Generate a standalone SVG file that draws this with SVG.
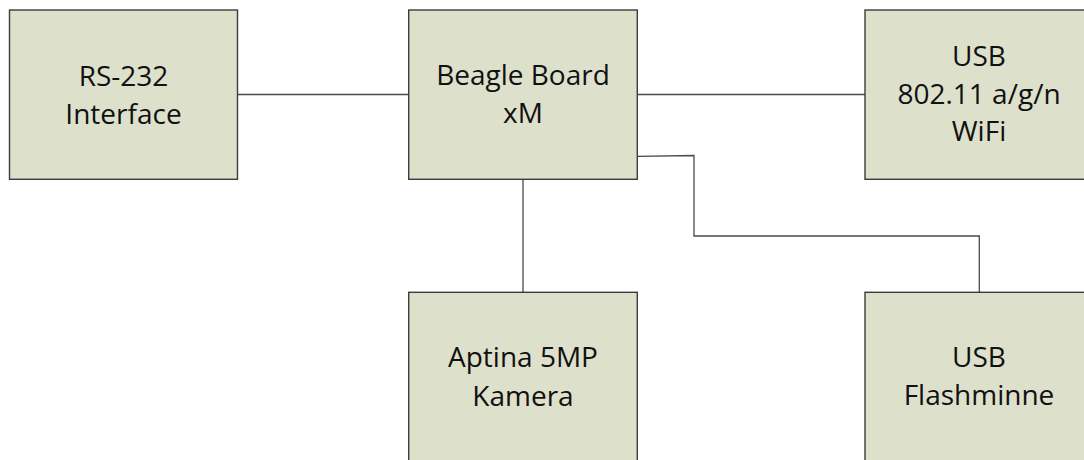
<svg xmlns="http://www.w3.org/2000/svg" width="1084" height="460" viewBox="0 0 1084 460">
<style>
.box{fill:#dde0cb;stroke:#3c3c3c;stroke-width:1.4}
.lbl{font-family:"Open Sans","Liberation Sans",sans-serif;font-size:28px;fill:#111;text-anchor:middle}
.con{fill:none;stroke:#4a4a4a;stroke-width:1.3}
</style>
<rect width="1084" height="460" fill="#ffffff"/>
<g id="connectors">
<line class="con" x1="237.5" y1="94.5" x2="408.7" y2="94.5"/>
<line class="con" x1="637.3" y1="94.5" x2="865" y2="94.5"/>
<line class="con" x1="523" y1="179.3" x2="523" y2="292.3"/>
<polyline class="con" points="637.3,156.3 694,155.5 694,236 979.3,236 979.3,292.3"/>
</g>
<g id="rs232">
<rect class="box" x="9.5" y="10" width="228" height="169.3"/>
<text class="lbl" x="123.5" y="86">RS-232</text>
<text class="lbl" x="123.5" y="124">Interface</text>
</g>
<g id="beagle">
<rect class="box" x="408.7" y="10" width="228.6" height="169.3"/>
<text class="lbl" x="523" y="85">Beagle Board</text>
<text class="lbl" x="523" y="123">xM</text>
</g>
<g id="wifi">
<rect class="box" x="865" y="10" width="228" height="169.3"/>
<text class="lbl" x="979" y="66">USB</text>
<text class="lbl" x="979" y="103.5">802.11 a/g/n</text>
<text class="lbl" x="979" y="141">WiFi</text>
</g>
<g id="kamera">
<rect class="box" x="408.7" y="292.3" width="228.6" height="180"/>
<text class="lbl" x="523" y="367.3">Aptina 5MP</text>
<text class="lbl" x="523" y="405.5">Kamera</text>
</g>
<g id="flash">
<rect class="box" x="865" y="292.3" width="228" height="180"/>
<text class="lbl" x="979" y="367">USB</text>
<text class="lbl" x="979" y="405">Flashminne</text>
</g>
</svg>
